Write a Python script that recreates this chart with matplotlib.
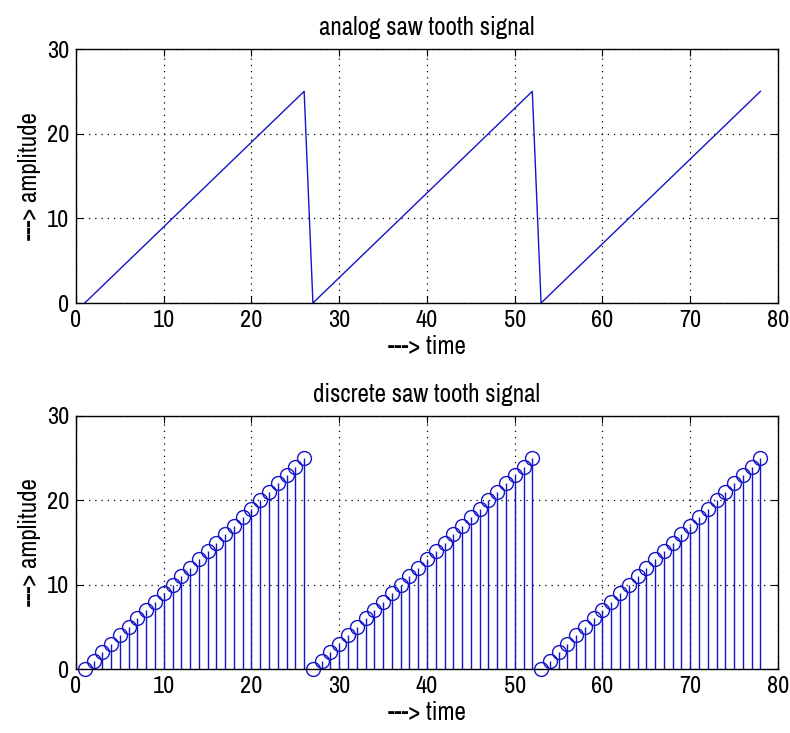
import matplotlib
matplotlib.use('Agg')
import matplotlib.pyplot as plt

# time samples and sawtooth amplitude (3 periods, 0..25)
time = [1, 2, 3, 4, 5, 6, 7, 8, 9, 10, 11, 12, 13, 14, 15, 16, 17, 18, 19, 20, 21, 22, 23, 24, 25, 26,
        27, 28, 29, 30, 31, 32, 33, 34, 35, 36, 37, 38, 39, 40, 41, 42, 43, 44, 45, 46, 47, 48, 49, 50, 51, 52,
        53, 54, 55, 56, 57, 58, 59, 60, 61, 62, 63, 64, 65, 66, 67, 68, 69, 70, 71, 72, 73, 74, 75, 76, 77, 78]
amplitude = [0, 1, 2, 3, 4, 5, 6, 7, 8, 9, 10, 11, 12, 13, 14, 15, 16, 17, 18, 19, 20, 21, 22, 23, 24, 25,
             0, 1, 2, 3, 4, 5, 6, 7, 8, 9, 10, 11, 12, 13, 14, 15, 16, 17, 18, 19, 20, 21, 22, 23, 24, 25,
             0, 1, 2, 3, 4, 5, 6, 7, 8, 9, 10, 11, 12, 13, 14, 15, 16, 17, 18, 19, 20, 21, 22, 23, 24, 25]

xticks = [0, 10, 20, 30, 40, 50, 60, 70, 80]
yticks = [0, 10, 20, 30]

plt.rcParams['font.family'] = ['Archivo Narrow', 'DejaVu Sans']

fig = plt.figure(figsize=(7.9, 7.33), dpi=100)
ax1 = fig.add_axes([76 / 790, 1 - 303 / 733, 702 / 790, 254 / 733])
ax2 = fig.add_axes([76 / 790, 1 - 669 / 733, 702 / 790, 253 / 733])

# analog signal
ax1.plot(time, amplitude, color='#1414c8', linewidth=1)
ax1.set_title('analog saw tooth signal', fontsize=18, pad=10)

# discrete signal
markerline, stemlines, baseline = ax2.stem(time, amplitude)
plt.setp(stemlines, color='#1414c8', linewidth=1)
plt.setp(markerline, color='#1414c8', marker='o', markersize=10,
         markerfacecolor='none', markeredgewidth=1)
baseline.set_visible(False)
markerline.set_clip_on(False)
ax2.set_title('discrete saw tooth signal', fontsize=18, pad=10)

for ax in (ax1, ax2):
    ax.set_xlim(0, 80)
    ax.set_ylim(0, 30)
    ax.set_xticks(xticks)
    ax.set_yticks(yticks)
    ax.grid(True, color='black', linestyle=(0, (1, 4)), linewidth=0.9)
    ax.tick_params(direction='in', top=True, right=True, labelsize=17.5, length=5, pad=5)
    ax.set_xlabel('---> time', fontsize=18, labelpad=3)
    ax.set_ylabel('---> amplitude', fontsize=18, labelpad=4)
    for s in ax.spines.values():
        s.set_linewidth(1)

fig.savefig('out.png', dpi=100)
